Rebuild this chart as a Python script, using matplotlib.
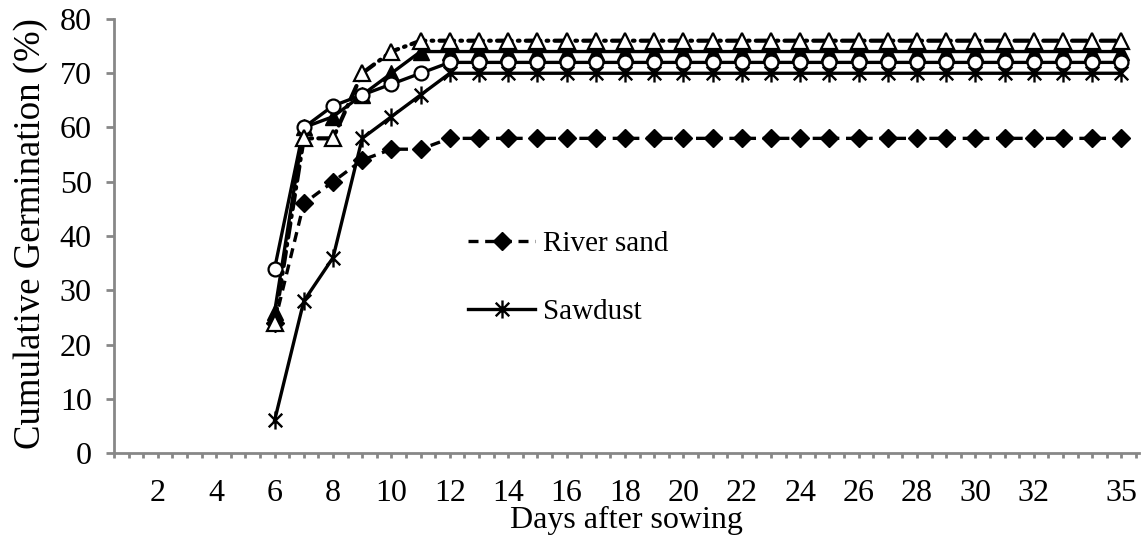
import numpy as np
import matplotlib
matplotlib.use('Agg')
import matplotlib.pyplot as plt
from matplotlib.path import Path
from matplotlib.lines import Line2D

days = [6, 7, 8, 9, 10, 11, 12, 13, 14, 15, 16, 17, 18, 19, 20,
        21, 22, 23, 24, 25, 26, 27, 28, 29, 30, 31, 32, 33, 34, 35]

river_sand = [24, 46, 50, 54, 56, 56, 58, 58, 58, 58, 58, 58, 58, 58, 58,
              58, 58, 58, 58, 58, 58, 58, 58, 58, 58, 58, 58, 58, 58, 58]
sawdust = [6, 28, 36, 58, 62, 66, 70, 70, 70, 70, 70, 70, 70, 70, 70,
           70, 70, 70, 70, 70, 70, 70, 70, 70, 70, 70, 70, 70, 70, 70]
filled_tri = [26, 60, 62, 66, 70, 74, 74, 74, 74, 74, 74, 74, 74, 74, 74,
              74, 74, 74, 74, 74, 74, 74, 74, 74, 74, 74, 74, 74, 74, 74]
open_circle = [34, 60, 64, 66, 68, 70, 72, 72, 72, 72, 72, 72, 72, 72, 72,
               72, 72, 72, 72, 72, 72, 72, 72, 72, 72, 72, 72, 72, 72, 72]
open_tri = [24, 58, 58, 70, 74, 76, 76, 76, 76, 76, 76, 76, 76, 76, 76,
            76, 76, 76, 76, 76, 76, 76, 76, 76, 76, 76, 76, 76, 76, 76]

x_ticks = [2, 4, 6, 8, 10, 12, 14, 16, 18, 20, 22, 24, 26, 28, 30, 32, 35]
y_ticks = [0, 10, 20, 30, 40, 50, 60, 70, 80]

plt.rcParams['font.family'] = ['Liberation Serif', 'DejaVu Serif']
fs = 23
axis_grey = '#878787'

# asterisk like the excel star marker
star = Path([(0, -1), (0, 1), (-0.75, -0.75), (0.75, 0.75), (-0.75, 0.75), (0.75, -0.75)],
            [Path.MOVETO, Path.LINETO, Path.MOVETO, Path.LINETO, Path.MOVETO, Path.LINETO])

fig = plt.figure(figsize=(11.42, 5.35), dpi=100)
ax = fig.add_axes([114 / 1142, 1 - 453 / 535, (1139 - 114) / 1142, (453 - 19) / 535])

lw = 2.4
ax.plot(days, river_sand, color='black', lw=lw, ls=(0, (3, 2)),
        marker='D', ms=9.5, mfc='black', mec='black', clip_on=False, zorder=3)
ax.plot(days, sawdust, color='black', lw=lw, ls='-',
        marker=star, ms=13, mec='black', mew=1.7, clip_on=False, zorder=3)
ax.plot(days, filled_tri, color='black', lw=lw, ls='-',
        marker='^', ms=11, mfc='black', mec='black', clip_on=False, zorder=4)
ax.plot(days, open_circle, color='black', lw=lw, ls='-',
        marker='o', ms=10, mfc='white', mec='black', mew=1.6, clip_on=False, zorder=5)
ax.plot(days, open_tri, color='black', lw=3, ls=(0, (3.5, 1.5, 0.4, 1.5)),
        dash_capstyle='round', marker='^', ms=11, mfc='white', mec='black', mew=1.6,
        clip_on=False, zorder=6)

ax.set_xlim(0.5, 35.6)
ax.set_ylim(0, 80)
ax.set_xticks(x_ticks)
ax.set_xticklabels([str(t) for t in x_ticks])
ax.set_xticks(np.arange(0.5, 35.6, 0.5), minor=True)
ax.set_yticks(y_ticks)

for side in ['top', 'right']:
    ax.spines[side].set_visible(False)
for side in ['left', 'bottom']:
    ax.spines[side].set_color(axis_grey)
    ax.spines[side].set_linewidth(2)

ax.tick_params(axis='x', which='both', direction='out', length=3.5, width=2,
               color=axis_grey, labelsize=fs, pad=15)
ax.tick_params(axis='y', which='major', direction='out', length=6, width=2,
               color=axis_grey, labelsize=fs, pad=10)

# axis titles
fig.text(626 / 1142, 1 - 528 / 535, 'Days after sowing', fontsize=fs,
         ha='center', va='baseline')
fig.text(31 / 1142, 1 - 234 / 535, 'Cumulative Germination (%)', fontsize=26.5,
         ha='center', va='center', rotation=90)

handles = [
    Line2D([], [], color='black', lw=lw, ls=(0, (3, 2)), marker='D', ms=9.5),
    Line2D([], [], color='black', lw=lw, ls='-', marker=star, ms=13, mew=1.7),
]
ax.legend(handles, ['River sand', 'Sawdust'], loc='upper left',
          bbox_to_anchor=(468 / 1142, 1 - 231 / 535), bbox_transform=fig.transFigure,
          frameon=False, fontsize=21, handlelength=2.3, handletextpad=0.28,
          labelspacing=1.42, borderpad=0, borderaxespad=0)

fig.savefig('out.png', dpi=100)
